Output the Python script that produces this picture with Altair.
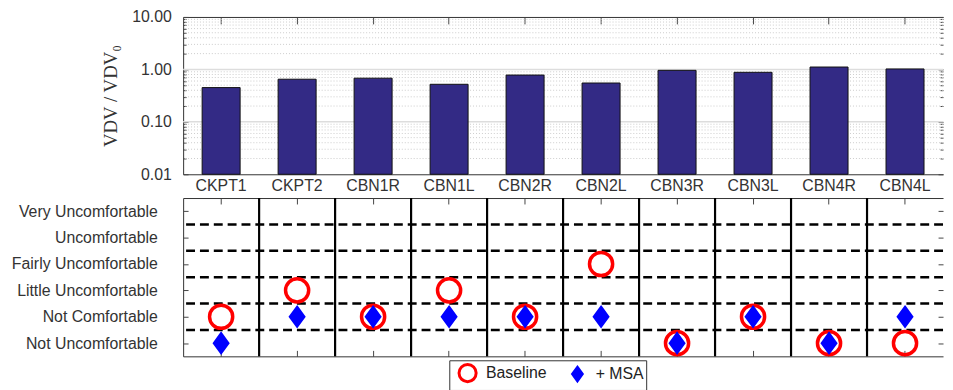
import altair as alt
import pandas as pd

categories = ["CKPT1", "CKPT2", "CBN1R", "CBN1L", "CBN2R", "CBN2L", "CBN3R", "CBN3L", "CBN4R", "CBN4L"]
vdv_ratio = [0.45, 0.65, 0.68, 0.52, 0.78, 0.55, 0.96, 0.88, 1.11, 1.02]

levels = ["Not Uncomfortable", "Not Comfortable", "Little Uncomfortable",
          "Fairly Uncomfortable", "Uncomfortable", "Very Uncomfortable"]
baseline = ["Not Comfortable", "Little Uncomfortable", "Not Comfortable", "Little Uncomfortable",
            "Not Comfortable", "Fairly Uncomfortable", "Not Uncomfortable", "Not Comfortable",
            "Not Uncomfortable", "Not Uncomfortable"]
msa = ["Not Uncomfortable", "Not Comfortable", "Not Comfortable", "Not Comfortable",
       "Not Comfortable", "Not Comfortable", "Not Uncomfortable", "Not Comfortable",
       "Not Uncomfortable", "Not Comfortable"]
series_names = ["Baseline", "+ MSA"]

major_ticks = [0.01, 0.1, 1, 10]
minor_ticks = [0.02, 0.03, 0.04, 0.05, 0.06, 0.07, 0.08, 0.09,
               0.2, 0.3, 0.4, 0.5, 0.6, 0.7, 0.8, 0.9,
               2, 3, 4, 5, 6, 7, 8, 9]

FONT = "Liberation Sans"
FS = 16
W, H1, H2 = 768, 159, 160
DIAMOND = "M0,-0.77L0.56,0L0,0.77L-0.56,0Z"

bars_df = pd.DataFrame({"cat": categories, "v": vdv_ratio})
minor_df = pd.DataFrame({"v": minor_ticks})
major_df = pd.DataFrame({"v": major_ticks[1:3]})

lv_index = {name: i + 1 for i, name in enumerate(levels)}
pts = pd.DataFrame({
    "cat": categories + categories,
    "series": [series_names[0]] * len(categories) + [series_names[1]] * len(categories),
    "level": [lv_index[b] for b in baseline] + [lv_index[m] for m in msa],
})
bounds_df = pd.DataFrame({"b": [i + 0.5 for i in range(1, len(levels))]})
sep_df = pd.DataFrame({"cat": categories[1:]})
level_vals = list(range(1, len(levels) + 1))

xsc = alt.Scale(type="band", domain=categories, paddingInner=0, paddingOuter=0)
ysc = alt.Scale(type="log", domain=[0.01, 10], nice=False)
y2sc = alt.Scale(domain=[0.5, len(levels) + 0.5], nice=False, zero=False)


def tick_axis(orient, size, values=None):
    kw = dict(orient=orient, tickSize=size, offset=-size, labels=False, domain=False,
              grid=False, title=None, tickColor="#444", tickWidth=1)
    if values is not None:
        kw["values"] = values
    return alt.Axis(**kw)


def frame_axis(orient):
    return alt.Axis(orient=orient, ticks=False, labels=False, domain=True, grid=False,
                    title=None, domainColor="#333")


# ---------- top panel ----------
t1 = alt.Chart(minor_df).mark_rule(color="#cccccc", strokeDash=[1, 2], strokeWidth=1).encode(
    y=alt.Y("v:Q", scale=ysc, axis=tick_axis("left", 3, minor_ticks)))
t2 = alt.Chart(major_df).mark_rule(color="#dddddd", strokeWidth=1.5).encode(
    y=alt.Y("v:Q", scale=ysc, axis=tick_axis("left", 5, major_ticks)))
t3 = alt.Chart(bars_df).mark_bar(color="#332a85", stroke="#111111", strokeWidth=1,
                                 width=alt.RelativeBandSize(0.5)).encode(
    x=alt.X("cat:N", scale=xsc, sort=categories,
            axis=alt.Axis(orient="bottom", ticks=False, domain=True, domainColor="#333",
                          labelAngle=0, labelPadding=3, title=None)),
    y=alt.Y("v:Q", scale=ysc,
            axis=alt.Axis(orient="left", values=major_ticks, format=".2f", ticks=False,
                          domain=True, domainColor="#333", grid=False, labelPadding=12,
                          title="VDV / VDV\u2080", titleFont="Liberation Serif",
                          titleFontSize=19, titleFontWeight="normal", titleColor="#333",
                          titlePadding=11)),
    y2=alt.datum(major_ticks[0]),
)
t4 = alt.Chart(bars_df).mark_bar(opacity=0).encode(
    x=alt.X("cat:N", scale=xsc, sort=categories, axis=frame_axis("top")),
    y=alt.Y("v:Q", scale=ysc, axis=tick_axis("right", 5, major_ticks)))
t5 = alt.Chart(bars_df).mark_bar(opacity=0).encode(
    x=alt.X("cat:N", scale=xsc, sort=categories, axis=tick_axis("top", 7)),
    y=alt.Y("v:Q", scale=ysc, axis=tick_axis("right", 3, minor_ticks)))

top = alt.layer(t1, t2, t3, t4, t5).resolve_axis(x="independent", y="independent").properties(
    width=W, height=H1)

# ---------- bottom panel ----------
label_expr = "[" + ",".join(["''"] + ["'" + l + "'" for l in levels]) + "][datum.value]"

b1 = alt.Chart(bounds_df).mark_rule(color="black", strokeDash=[9, 5], strokeWidth=2.5).encode(
    y=alt.Y("b:Q", scale=y2sc,
            axis=alt.Axis(orient="left", values=level_vals, labelExpr=label_expr, ticks=False,
                          domain=True, domainColor="#333", grid=False, labelPadding=26,
                          title=None)))
b2 = alt.Chart(sep_df).mark_rule(color="black", strokeWidth=2.2).encode(
    x=alt.X("cat:N", scale=xsc, sort=categories, bandPosition=0, axis=None))

leg = alt.Legend(title=None, orient="none", legendX=269, legendY=164, direction="horizontal",
                 symbolSize=300, symbolStrokeWidth=3, labelFontSize=FS, labelFont=FONT,
                 labelColor="#222", strokeColor="#333", padding=2, columnPadding=14,
                 labelOffset=8, symbolOffset=6)

b3 = alt.Chart(pts).mark_point(filled=True, opacity=1, size=548, strokeWidth=3.5).encode(
    x=alt.X("cat:N", scale=xsc, sort=categories, axis=frame_axis("bottom")),
    y=alt.Y("level:Q", scale=y2sc, axis=tick_axis("left", 5, level_vals)),
    fill=alt.Fill("series:N", scale=alt.Scale(domain=series_names, range=["transparent", "#0000ff"]),
                  legend=leg),
    stroke=alt.Stroke("series:N", scale=alt.Scale(domain=series_names, range=["#ff0000", "#0000ff"]),
                      legend=leg),
    shape=alt.Shape("series:N", scale=alt.Scale(domain=series_names, range=["circle", DIAMOND]),
                    legend=leg),
)
b4 = alt.Chart(pts).mark_point(opacity=0).encode(
    x=alt.X("cat:N", scale=xsc, sort=categories, axis=frame_axis("top")),
    y=alt.Y("level:Q", scale=y2sc, axis=tick_axis("right", 5, level_vals)))
b5 = alt.Chart(pts).mark_point(opacity=0).encode(
    x=alt.X("cat:N", scale=xsc, sort=categories, axis=tick_axis("top", 6)),
    y=alt.Y("level:Q", scale=y2sc, axis=None))
b6 = alt.Chart(pts).mark_point(opacity=0).encode(
    x=alt.X("cat:N", scale=xsc, sort=categories, axis=tick_axis("bottom", 6)),
    y=alt.Y("level:Q", scale=y2sc, axis=None))

bottom = alt.layer(b1, b2, b3, b4, b5, b6).resolve_axis(x="independent", y="independent").properties(
    width=W, height=H2)

chart = alt.vconcat(top, bottom, spacing=3).resolve_scale(
    fill="independent", stroke="independent", shape="independent"
).properties(
    padding={"left": 3, "top": -1, "right": 0, "bottom": 0},
    background="white",
).configure_view(stroke=None).configure_axis(
    labelFont=FONT, labelFontSize=FS, labelColor="#333"
)

chart.save("out.html", embed_options={"renderer": "svg", "actions": False})
